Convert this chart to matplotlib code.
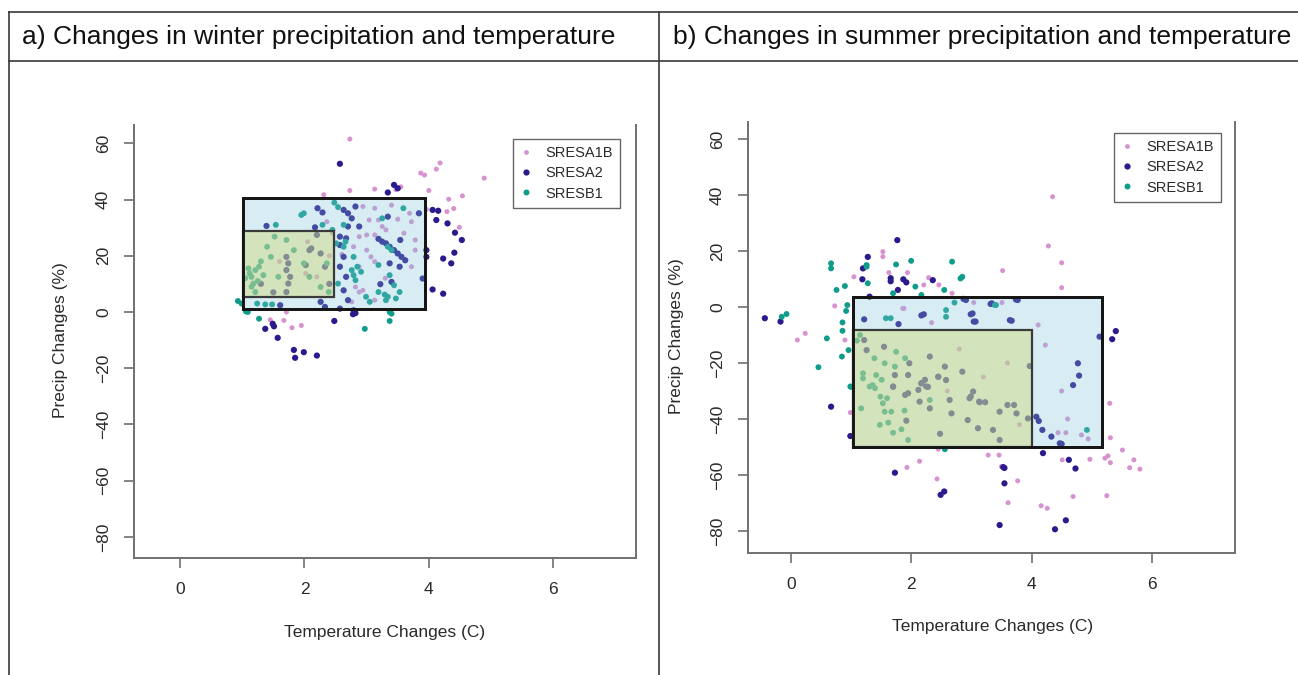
import matplotlib
matplotlib.use("Agg")
import matplotlib.pyplot as plt
from matplotlib.patches import Rectangle
from matplotlib.lines import Line2D

plt.rcParams['font.family'] = ['Liberation Sans', 'DejaVu Sans']

W, H = 1298, 675

# ---------------- data ----------------
series_names = ["SRESA1B", "SRESA2", "SRESB1"]
series_colors = ["#d892cf", "#2a1a8c", "#0f9c8a"]

# Winter (panel a)
win_a1b_x = [2.73, 2.73, 2.31, 3.13, 3.47, 3.55, 3.87, 3.93, 4.18, 4.12, 4.00, 4.89, 4.54, 4.32, 4.40, 4.29, 3.96, 4.49, 3.69, 3.72,
             2.94, 3.13, 3.04, 3.19, 3.25, 3.31, 2.88, 3.00, 3.13, 2.79, 3.00, 3.07, 3.13, 2.88, 2.82, 2.88, 2.94, 2.76, 3.13, 3.78,
             3.78, 3.72, 2.36, 2.45, 1.71, 1.67, 1.80, 1.95, 1.45, 2.02, 2.20, 2.40, 3.40, 3.50, 2.60, 3.30, 3.60, 2.05, 1.60]
win_a1b_y = [61.5, 43.2, 41.7, 43.7, 43.5, 44.5, 49.4, 48.7, 53.0, 50.8, 43.2, 47.6, 41.3, 40.1, 36.8, 35.7, 36.5, 30.1, 35.1, 32.1,
             37.5, 36.9, 32.7, 32.7, 30.4, 29.2, 26.8, 27.4, 27.4, 23.2, 22.0, 19.6, 17.9, 16.1, 8.9, 7.1, 7.7, 3.6, 4.2, 25.6,
             22.0, 16.1, 32.1, 28.0, 0.0, -3.0, -5.6, -4.8, -2.8, 13.7, 12.5, 20.0, 38.0, 33.0, 20.5, 12.0, 28.0, 25.0, 18.0]

win_a2_x = [2.57, 3.44, 3.34, 3.50, 4.06, 4.15, 4.12, 4.30, 4.42, 4.53, 4.41, 4.23, 4.36, 3.96, 3.96, 3.90, 4.06, 4.23, 3.84,
            3.25, 3.31, 3.37, 3.44, 3.50, 3.56, 3.62, 3.19, 3.34, 3.54, 3.53, 3.37, 3.40, 3.22,
            2.82, 2.63, 2.70, 2.76, 2.70, 2.88, 2.57, 2.67, 2.57, 2.63, 2.57, 2.67, 2.63, 2.70, 2.57, 2.82, 2.79, 2.48, 2.78,
            2.21, 2.29, 2.17, 2.20, 2.26, 2.33, 2.26, 2.33, 1.39, 1.61,
            1.37, 1.49, 1.51, 1.57, 1.83, 1.85, 1.99, 2.20,
            1.71, 1.74, 1.71, 1.77, 1.74, 1.71, 2.08, 2.11, 2.02, 1.30, 1.50, 2.40]
win_a2_y = [52.7, 45.2, 42.5, 44.0, 36.3, 36.0, 32.7, 31.5, 28.2, 25.6, 21.1, 19.0, 17.3, 22.0, 19.6, 11.9, 8.0, 6.5, 35.1,
            25.0, 24.4, 23.2, 22.0, 20.8, 19.6, 18.4, 26.0, 33.9, 25.6, 16.1, 17.3, 10.7, 9.9,
            37.5, 36.3, 35.1, 33.3, 30.4, 30.4, 26.8, 26.2, 23.8, 19.6, 16.1, 12.5, 7.7, 4.2, 1.2, -0.4, 0.6, -3.2, -0.8,
            36.9, 35.4, 30.1, 27.4, 20.8, 16.1, 3.6, 1.8, 30.6, 2.4,
            -6.0, -4.2, -5.1, -9.2, -13.5, -16.3, -14.3, -15.5,
            19.6, 17.3, 14.9, 12.5, 10.1, 7.1, 22.0, 22.6, 16.7, 10.0, 7.0, 10.0]

win_b1_x = [2.48, 2.54, 1.99, 1.95, 1.54, 2.29, 2.45, 2.63, 2.66, 2.63, 2.51, 2.54, 2.79, 2.85, 2.76, 2.79, 2.82, 2.91, 2.99, 3.05,
            3.25, 3.59, 3.19, 3.34, 3.40, 3.37, 3.44, 3.19, 3.29, 3.34, 3.47, 3.53, 3.31, 3.37, 3.40, 3.37, 2.97, 0.93, 0.99, 1.09,
            1.27, 1.24, 1.37, 1.48, 1.06,
            1.12, 1.15, 1.21, 1.27, 1.34, 1.18, 1.40, 1.46, 1.52, 1.71, 1.83, 1.99, 2.08, 2.26, 2.36, 2.39, 1.58, 1.21, 1.05, 1.10,
            1.25, 1.30, 1.15]
win_b1_y = [38.9, 37.3, 35.1, 34.5, 31.0, 31.0, 29.2, 31.0, 25.0, 23.2, 24.4, 10.1, 19.6, 16.1, 14.9, 13.1, 11.3, 14.3, 5.4, 3.6,
            33.3, 36.9, 16.7, 23.2, 22.0, 13.1, 9.5, 7.1, 6.2, 5.4, 4.8, 7.1, 4.2, 0.0, -0.6, -3.2, -6.0, 3.9, 3.0, 0.0,
            -2.4, 3.0, 2.7, 2.7, 0.2,
            13.7, 12.5, 14.9, 16.1, 13.1, 10.1, 23.2, 19.6, 26.8, 25.6, 22.0, 17.3, 12.5, 8.9, 17.3, 7.1, 12.5, 7.1, 12.0, 15.5,
            11.0, 18.0, 9.0]

# Summer (panel b)
sum_a1b_x = [4.35, 4.28, 4.50, 4.50, 3.52, 1.53, 1.53, 1.63, 1.94, 2.29, 2.46, 2.21, 2.68, 1.05, 0.73, 0.24, 0.11, 0.90, 4.11, 4.23,
             1.88, 2.34, 5.30, 5.31, 5.51, 5.70, 5.63, 5.80, 5.27, 5.22, 5.31, 4.97, 4.51, 3.28, 3.46, 3.50, 3.77, 3.61, 4.16, 4.26,
             4.69, 5.25, 4.44, 4.57, 4.83, 4.94, 0.99, 2.45, 2.14, 1.93, 2.43, 3.04, 3.51, 1.86, 2.80, 3.20, 3.60, 2.60, 3.80, 4.50,
             4.60]
sum_a1b_y = [39.4, 21.8, 15.8, 6.9, 13.0, 19.8, 18.0, 12.3, 12.3, 10.5, 7.9, 7.9, 4.9, 10.8, 0.4, -9.4, -11.8, -11.8, -6.4, -13.6,
             -0.5, -5.6, -34.4, -46.7, -51.1, -54.6, -57.4, -57.9, -53.2, -54.0, -55.6, -54.4, -54.6, -52.9, -52.9, -57.0, -62.1, -69.9, -71.0, -71.9,
             -67.7, -67.4, -44.9, -44.9, -45.7, -47.1, -37.7, -50.8, -55.1, -57.3, -61.4, 1.6, 1.6, -0.5, -15.0, -25.0, -20.0, -30.0, -42.0, -30.0,
             -40.0]

sum_a2_x = [1.77, 1.28, 1.20, 1.19, 1.66, 1.66, 1.78, 1.87, 1.92, 2.36, 1.31, -0.43, -0.17, 1.22, 1.79, 2.17, 2.21, 3.02, 3.07, 3.67,
            3.34, 3.77, 2.91, 3.32, 3.74, 2.87, 2.99, 3.04, 3.64, 5.40, 5.34, 5.13, 4.77, 4.79, 4.69, 0.67, 0.99, 1.73, 2.55, 2.49,
            4.08, 4.12, 4.18, 4.33, 4.47, 4.50, 4.19, 4.62, 4.73, 3.53, 3.55, 3.55, 3.47, 4.57, 4.39, 3.97,
            1.22, 1.26, 1.55, 1.97, 2.17, 2.28, 2.45, 2.58, 2.99, 3.13, 3.23, 3.60, 3.71, 1.70, 1.90, 2.31, 2.85, 3.03, 2.97, 3.14,
            3.47, 3.75, 2.94, 3.11, 3.36, 3.47, 3.94, 1.73, 1.95, 1.70, 1.95, 2.14, 2.31, 1.92, 2.17, 2.25, 2.12, 2.45, 2.56, 2.64,
            2.67, 2.48, 2.23]
sum_a2_y = [23.9, 17.9, 13.8, 9.9, 10.3, 9.2, 6.1, 9.9, 8.8, 9.6, 3.7, -4.0, -5.2, -4.4, -6.1, -3.0, -2.6, -2.3, -5.2, -4.9,
            1.3, 2.5, 2.5, 1.1, 2.7, 2.9, -2.6, -5.2, -4.7, -8.6, -11.5, -10.6, -20.1, -24.5, -27.9, -35.6, -46.1, -59.2, -65.9, -67.1,
            -39.2, -40.7, -43.9, -46.3, -48.7, -48.9, -52.2, -54.6, -57.7, -57.2, -57.5, -63.0, -77.9, -76.2, -79.4, -21.1,
            -11.8, -15.4, -14.2, -20.1, -27.3, -28.5, -24.9, -26.1, -32.0, -33.8, -34.0, -35.0, -35.0, -28.5, -31.4, -17.7, -23.1, -30.2, -32.6, -34.0,
            -37.4, -38.0, -40.4, -43.3, -43.9, -47.5, -39.8, -24.3, -24.3, -28.4, -30.8, -33.8, -36.2, -40.6, -27.2, -28.4, -29.6, -24.9, -21.3, -33.2,
            -38.0, -45.3, -26.0]

sum_b1_x = [0.67, 0.67, 0.90, 0.76, 0.94, 0.92, 0.86, 0.86, 0.60, 0.85, 0.46, 0.96, -0.15, -0.07, 1.00, 1.26, 1.26, 1.75, 2.00, 2.68,
            2.85, 2.82, 2.55, 2.07, 1.70, 2.17, 1.28, 3.41, 2.58, 2.58, 1.58, 1.66, 2.72, 3.39, 4.92, 2.56, 0.99,
            1.39, 1.75, 1.90, 1.73, 1.36, 1.49, 1.60, 1.17, 1.48, 1.62, 1.70, 1.84, 1.95, 1.31, 1.40, 1.53, 1.56, 1.67, 1.89, 2.31,
            1.51, 1.20, 1.20, 1.56, 1.42, 1.10, 1.15]
sum_b1_y = [15.6, 13.8, 7.5, 6.1, 0.7, -1.4, -5.5, -8.5, -11.2, -17.7, -21.5, -15.4, -3.5, -2.5, -28.5, 15.0, 14.4, 15.2, 16.5, 16.2,
            10.8, 10.2, 6.1, 7.3, 4.9, 4.3, 8.5, 0.7, -1.1, -3.5, -4.0, -4.0, 1.6, 0.7, -43.9, -50.8, -28.4,
            -18.3, -16.0, -18.3, -21.3, -27.9, -32.0, -32.6, -36.2, -42.1, -41.3, -44.9, -43.7, -47.5, -28.4, -29.0, -34.4, -37.4, -37.4, -37.0, -33.2,
            -26.0, -23.7, -25.5, -20.1, -24.3, -12.0, -10.0]

# Range boxes: (x_min, x_max, y_min, y_max)
win_outer_box = (1.02, 3.93, 1.0, 40.6)
win_inner_box = (1.02, 2.48, 5.3, 28.8)
sum_outer_box = (1.03, 5.17, -50.0, 3.6)
sum_inner_box = (1.03, 4.00, -50.0, -8.2)

x_ticks = [0, 2, 4, 6]
y_ticks = [-80, -60, -40, -20, 0, 20, 40, 60]

headers = ["a) Changes in winter precipitation and temperature",
           "b) Changes in summer precipitation and temperature"]
xlabel = "Temperature Changes (C)"
ylabel = "Precip Changes (%)"

# ---------------- figure ----------------
fig = plt.figure(figsize=(W / 100, H / 100), dpi=100)


def fx(px):
    return px / W


def fy(py):
    return 1 - py / H


# table lines
line_kw = dict(color="#3a3a3a", lw=1.2, transform=fig.transFigure)
fig.add_artist(Line2D([fx(9), 1.0], [fy(12), fy(12)], **line_kw))
fig.add_artist(Line2D([fx(9), 1.0], [fy(61), fy(61)], **line_kw))
fig.add_artist(Line2D([fx(9), fx(9)], [fy(12), 0.0], **line_kw))
fig.add_artist(Line2D([fx(659), fx(659)], [fy(12), 0.0], **line_kw))

fig.text(fx(22), fy(44), headers[0], fontsize=19.0, color="#111111", va="baseline", ha="left")
fig.text(fx(673), fy(44), headers[1], fontsize=19.0, color="#111111", va="baseline", ha="left")

blue_face = (125 / 255, 195 / 255, 218 / 255, 0.3)
green_face = (208 / 255, 219 / 255, 124 / 255, 0.45)

panels = [
    dict(rect=(134, 125, 636, 558), xlim=(-0.74, 7.33), ylim=(-87.5, 66.5),
         data=[(win_a1b_x, win_a1b_y), (win_a2_x, win_a2_y), (win_b1_x, win_b1_y)],
         outer=win_outer_box, inner=win_inner_box,
         legend=(513, 139), ylab=(61, 340), xlab=(385, 632)),
    dict(rect=(748, 122, 1235, 552.5), xlim=(-0.71, 7.38), ylim=(-87.7, 66.1),
         data=[(sum_a1b_x, sum_a1b_y), (sum_a2_x, sum_a2_y), (sum_b1_x, sum_b1_y)],
         outer=sum_outer_box, inner=sum_inner_box,
         legend=(1114, 133), ylab=(676, 336), xlab=(993, 627)),
]

sizes = [13, 20, 18]

for p in panels:
    x0, y0, x1, y1 = p["rect"]
    ax = fig.add_axes([fx(x0), fy(y1), (x1 - x0) / W, (y1 - y0) / H])
    ax.set_xlim(*p["xlim"])
    ax.set_ylim(*p["ylim"])
    for (xs, ys), c, s in zip(p["data"], series_colors, sizes):
        ax.scatter(xs, ys, s=s, color=c, edgecolors="none", zorder=2)
    ox0, ox1, oy0, oy1 = p["outer"]
    ax.add_patch(Rectangle((ox0, oy0), ox1 - ox0, oy1 - oy0, facecolor=blue_face,
                           edgecolor="#151515", lw=2.0, zorder=3))
    ix0, ix1, iy0, iy1 = p["inner"]
    ax.add_patch(Rectangle((ix0, iy0), ix1 - ix0, iy1 - iy0, facecolor=green_face,
                           edgecolor="#3a3a3a", lw=1.6, zorder=4))
    # redraw outer edge on top
    ax.add_patch(Rectangle((ox0, oy0), ox1 - ox0, oy1 - oy0, fill=False,
                           edgecolor="#151515", lw=2.0, zorder=5))

    ax.spines["top"].set_visible(False)
    for sp in ["left", "right", "bottom"]:
        ax.spines[sp].set_color("#707070")
        ax.spines[sp].set_linewidth(1.4)
    ax.set_xticks(x_ticks)
    ax.set_yticks(y_ticks)
    ax.set_xticklabels([str(v) for v in x_ticks])
    ax.set_yticklabels([str(v).replace("-", "\u2212") for v in y_ticks], rotation=90, va="center")
    ax.tick_params(axis="both", direction="out", length=7.5, width=1.2, color="#707070",
                   labelsize=12.5, labelcolor="#2a2a2a", pad=9)
    ax.tick_params(axis="x", pad=10)
    ax.patch.set_alpha(0)

    fig.text(fx(p["ylab"][0]), fy(p["ylab"][1]), ylabel, rotation=90, fontsize=12.5,
             color="#2a2a2a", ha="center", va="center")
    fig.text(fx(p["xlab"][0]), fy(p["xlab"][1]), xlabel, fontsize=12.5,
             color="#2a2a2a", ha="center", va="center")

    handles = [Line2D([], [], marker="o", linestyle="none", markersize=ms, markerfacecolor=c,
                      markeredgecolor="none", label=n)
               for n, c, ms in zip(series_names, series_colors, [3.5, 4.5, 4.3])]
    leg = ax.legend(handles=handles, loc="upper left",
                    bbox_to_anchor=(fx(p["legend"][0]), fy(p["legend"][1])),
                    bbox_transform=fig.transFigure, frameon=True, fancybox=False,
                    fontsize=10.5, handlelength=0.8, handletextpad=0.9, borderpad=0.5,
                    labelspacing=0.42, borderaxespad=0)
    leg.get_frame().set_edgecolor("#404040")
    leg.get_frame().set_linewidth(1.0)
    for t in leg.get_texts():
        t.set_color("#2a2a2a")

fig.savefig("out.png", dpi=100)
